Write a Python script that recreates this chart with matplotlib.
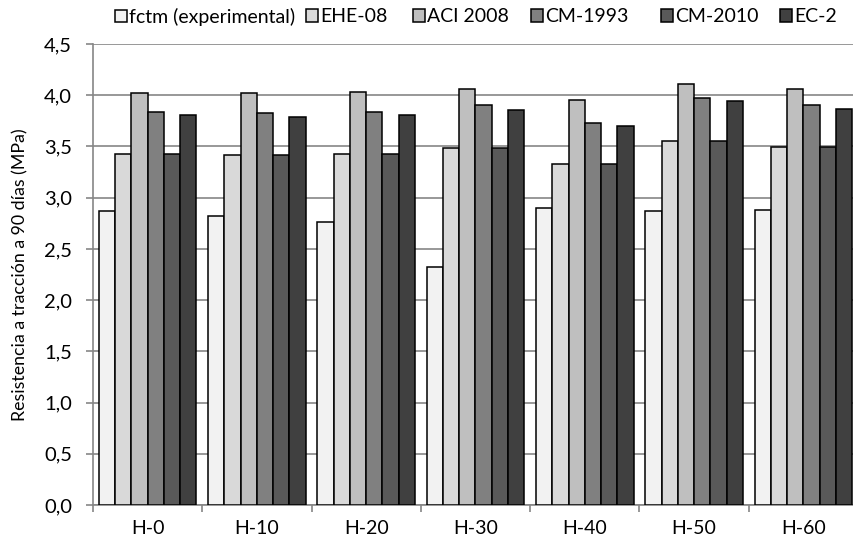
import matplotlib
matplotlib.use("Agg")
import matplotlib.pyplot as plt
import numpy as np
from matplotlib.ticker import FixedLocator, FuncFormatter

plt.rcParams['font.family'] = ['Lato', 'DejaVu Sans']

categories = ["H-0", "H-10", "H-20", "H-30", "H-40", "H-50", "H-60"]
series_names = ["fctm (experimental)", "EHE-08", "ACI 2008", "CM-1993", "CM-2010", "EC-2"]
fctm = [2.87, 2.82, 2.76, 2.32, 2.90, 2.87, 2.88]
ehe08 = [3.43, 3.42, 3.43, 3.48, 3.33, 3.55, 3.49]
aci2008 = [4.02, 4.02, 4.03, 4.06, 3.95, 4.11, 4.06]
cm1993 = [3.84, 3.83, 3.84, 3.90, 3.73, 3.97, 3.90]
cm2010 = [3.43, 3.42, 3.43, 3.48, 3.33, 3.55, 3.49]
ec2 = [3.81, 3.79, 3.81, 3.86, 3.70, 3.94, 3.87]
series = [fctm, ehe08, aci2008, cm1993, cm2010, ec2]
colors = ["#F2F2F2", "#D9D9D9", "#BFBFBF", "#808080", "#595959", "#404040"]

# left edge (pixels) of each legend entry along the top row
legend_x = [115, 306, 413, 531, 661, 780]

fig = plt.figure(figsize=(8.54, 5.40), dpi=100)
ax = fig.add_axes([93 / 854, 1 - 505 / 540, 765 / 854, (505 - 44) / 540])

x = np.arange(len(categories))
width = 0.149
n = len(series)
bars = []
for i, (vals, name, col) in enumerate(zip(series, series_names, colors)):
    offs = (i - (n - 1) / 2) * width
    b = ax.bar(x + offs, vals, width, color=col, edgecolor="black", linewidth=1.1,
               label=name, zorder=3)
    bars.append(b)

ax.set_xlim(-0.5, len(categories) - 0.5)
ax.set_ylim(0, 4.5)
ax.set_yticks(np.arange(0, 4.51, 0.5))
ax.yaxis.set_major_formatter(FuncFormatter(lambda v, p: f"{v:.1f}".replace(".", ",")))
ax.set_xticks(x)
ax.set_xticklabels(categories)
ax.xaxis.set_minor_locator(FixedLocator(np.arange(-0.5, len(categories), 1.0)))
ax.tick_params(axis="x", which="major", length=0, pad=11, labelsize=14)
ax.tick_params(axis="x", which="minor", length=5, width=1.2, color="#868686")
ax.tick_params(axis="y", length=5, width=1.2, color="#868686", labelsize=14.5, pad=10)

ax.grid(axis="y", color="#868686", linewidth=1.2, zorder=0)
ax.set_axisbelow(True)
for s in ["top", "right"]:
    ax.spines[s].set_visible(False)
for s in ["left", "bottom"]:
    ax.spines[s].set_color("#868686")
    ax.spines[s].set_linewidth(1.2)

ax.set_ylabel("Resistencia a tracción a 90 días (MPa)", fontsize=12.8)
ax.yaxis.set_label_coords(-0.084, 0.5)

# one legend entry per series, laid out along the top
for b, name, lx in zip(bars, series_names, legend_x):
    fig.legend([b], [name], loc="center left",
               bbox_to_anchor=(lx / 854, 1 - 17 / 540),
               frameon=False, fontsize=14, handlelength=0.6, handleheight=0.6,
               handletextpad=0.12, borderaxespad=0, borderpad=0)

fig.savefig("out.png", dpi=100)
